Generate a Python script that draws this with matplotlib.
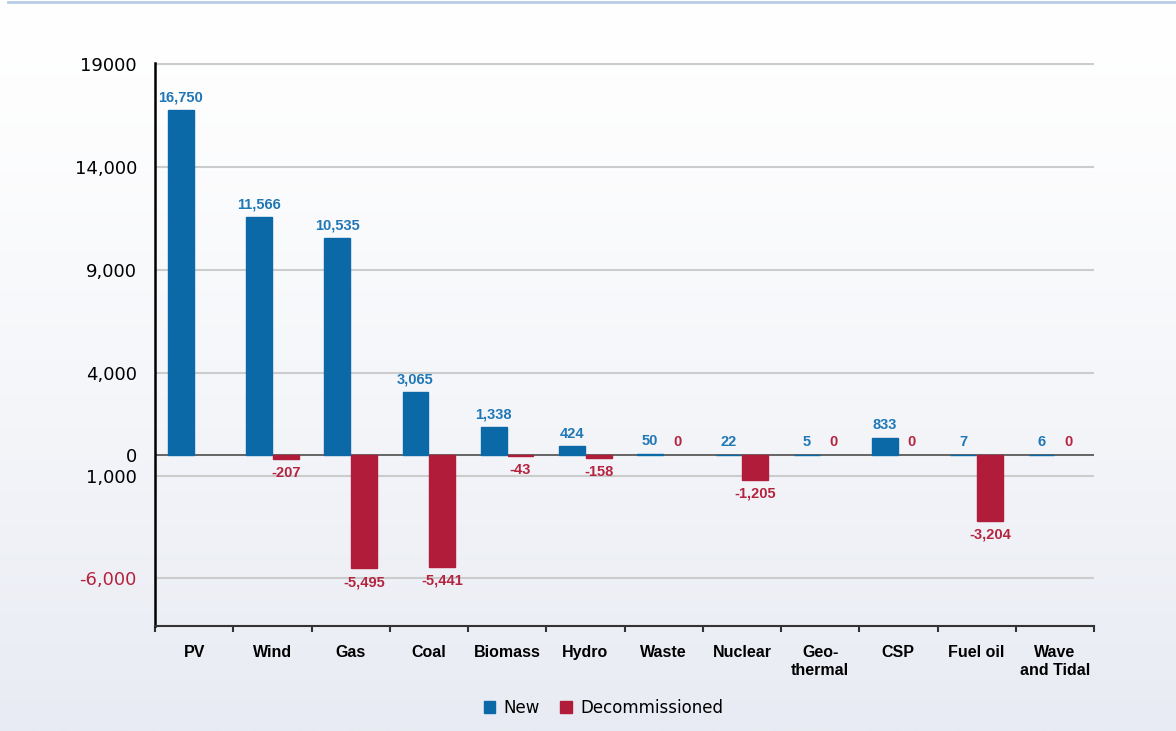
import matplotlib.pyplot as plt
import numpy as np
from matplotlib.patches import Patch
from matplotlib.lines import Line2D

categories = ['PV', 'Wind', 'Gas', 'Coal', 'Biomass', 'Hydro', 'Waste', 'Nuclear',
              'Geo-\nthermal', 'CSP', 'Fuel oil', 'Wave\nand Tidal']
new = [16750, 11566, 10535, 3065, 1338, 424, 50, 22, 5, 833, 7, 6]
decommissioned = [np.nan, -207, -5495, -5441, -43, -158, 0, -1205, 0, 0, -3204, 0]
y_ticks = [19000, 14000, 9000, 4000, 0, -1000, -6000]
y_tick_labels = ['19000', '14,000', '9,000', '4,000', '0', '1,000', '-6,000']

BLUE = '#0b69a8'
RED = '#b01c3a'
BLUE_TXT = '#1f77b6'
RED_TXT = '#b5243f'
W, H = 1176, 731

fig = plt.figure(figsize=(W / 100, H / 100), dpi=100)

# fond en dégradé
bg = fig.add_axes([0, 0, 1, 1], zorder=-10)
grad = np.linspace(0, 1, 256).reshape(-1, 1) ** 1.3
top = np.array([1.0, 1.0, 1.0])
bot = np.array([232, 235, 243]) / 255
img = top + (bot - top) * grad[..., None]
bg.imshow(img, aspect='auto', extent=[0, 1, 0, 1], origin='upper')
bg.axis('off')

fig.add_artist(Line2D([8 / W, 1], [1 - 2 / H] * 2, color='#b9cde5', lw=2))

ax = fig.add_axes([155 / W, 105 / H, 939 / W, 563 / H])
ax.set_facecolor('none')

x = np.arange(len(categories))
w = 0.33
xb = x - w / 2 - 0.006
xr = x + w / 2 + 0.006
ax.bar(xb, new, w, color=BLUE, edgecolor=BLUE, lw=1.0, zorder=2)
# un petit contour pour que les très petites valeurs restent visibles
red_lw = [0 if (np.isnan(v) or v == 0) else 1.0 for v in decommissioned]
ax.bar(xr, decommissioned, w, color=RED, edgecolor=RED, lw=red_lw, zorder=2)

lab_font = dict(family=['Liberation Sans', 'DejaVu Sans'], fontsize=10.5, fontweight='bold')
for xi, v in zip(xb, new):
    ax.annotate(f'{v:,}', (xi, v), xytext=(0, 4), textcoords='offset points',
                ha='center', va='bottom', color=BLUE_TXT, **lab_font)
for xi, v in zip(xr, decommissioned):
    if np.isnan(v):
        continue
    if v < 0:
        ax.annotate(f'{int(v):,}', (xi, v), xytext=(0, -5), textcoords='offset points',
                    ha='center', va='top', color=RED_TXT, **lab_font)
    else:
        ax.annotate(f'{int(v):,}', (xi, v), xytext=(0, 4), textcoords='offset points',
                    ha='center', va='bottom', color=RED_TXT, **lab_font)

ax.set_xlim(-0.5, len(categories) - 0.5)
ax.set_ylim(-8310, 19050)
ax.set_yticks(y_ticks, y_tick_labels)
ax.yaxis.grid(True, color='#cccccc', lw=1.5, zorder=0)
ax.set_axisbelow(True)
ax.axhline(0, color='#555555', lw=1.2, zorder=1.5)
ax.tick_params(axis='y', length=0, pad=13, labelsize=13)
for t in ax.get_yticklabels():
    t.set_family('DejaVu Sans')
ax.get_yticklabels()[-1].set_color(RED_TXT)

ax.set_xticks(x, categories)
ax.set_xticks(np.arange(-0.5, len(categories), 1), minor=True)
ax.tick_params(axis='x', which='major', length=0, pad=14)
ax.tick_params(axis='x', which='minor', length=4.5, width=1.5, color='#333333')
for t in ax.get_xticklabels():
    t.set_family(['Liberation Sans', 'DejaVu Sans'])
    t.set_fontweight('bold')
    t.set_fontsize(11.5)

for s in ['top', 'right']:
    ax.spines[s].set_visible(False)
ax.spines['left'].set_color('black')
ax.spines['left'].set_linewidth(1.8)
ax.spines['bottom'].set_color('#333333')
ax.spines['bottom'].set_linewidth(1.5)

fig.legend(handles=[Patch(color=BLUE, label='New'), Patch(color=RED, label='Decommissioned')],
           loc='center', bbox_to_anchor=(0.513, 0.032), ncol=2, frameon=False,
           handlelength=0.7, handleheight=0.7, handletextpad=0.5, columnspacing=1.2,
           prop=dict(family='DejaVu Sans', size=12))

fig.savefig('out.png', dpi=100)
